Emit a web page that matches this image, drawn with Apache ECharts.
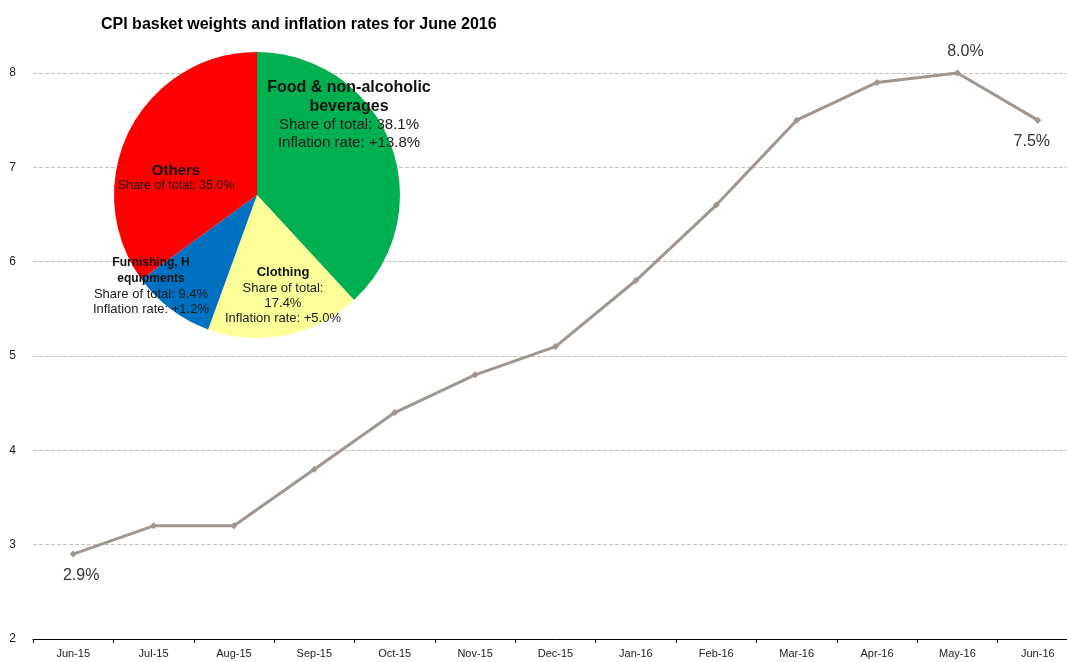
<!DOCTYPE html>
<html>
<head>
<meta charset="utf-8">
<script src="https://cdn.jsdelivr.net/npm/echarts@6/dist/echarts.min.js"></script>
<style>
  html, body { margin: 0; padding: 0; background: #fff; overflow: hidden; }
  /* a little wider than the window: the last month runs off the right edge, as in the original */
  #main { width: 1078px; height: 662px; }
</style>
</head>
<body>
<div id="main"></div>
<script>
// monthly CPI inflation, %
var months = ['Jun-15', 'Jul-15', 'Aug-15', 'Sep-15', 'Oct-15', 'Nov-15', 'Dec-15',
              'Jan-16', 'Feb-16', 'Mar-16', 'Apr-16', 'May-16', 'Jun-16'];
var inflation = [2.9, 3.2, 3.2, 3.8, 4.4, 4.8, 5.1, 5.8, 6.6, 7.5, 7.9, 8.0, 7.5];
// which points get a value label: [position, x shift]
var labelled = {0: ['bottom', 8], 11: ['top', 8], 12: ['bottom', -6]};

// basket groups
var groups = ['Food & non-alcoholic\nbeverages', 'Clothing', 'Furnishing, H\nequipments', 'Others'];
var shares = [38.1, 17.4, 9.4, 35.0];
var rates = ['+13.8%', '+5.0%', '+1.2%', null];
var groupColors = ['#00b050', '#ffff99', '#0070c0', '#ff0000'];

var chart = echarts.init(document.getElementById('main'));

var lineData = inflation.map(function (v, i) {
    var item = {value: v};
    if (labelled[i]) {
        item.label = {show: true, position: labelled[i][0], offset: [labelled[i][1], 0]};
    }
    return item;
});

// label centres inside the pie (pixel), per slice
var pieLabelPos = [[349, 115], [283, 295], [151, 286], [176, 178]];
var pieStyles = [
    {t: 16, s: 15, lh: 18},
    {t: 13, s: 13, lh: 15},
    {t: 12, s: 13, lh: 15},
    {t: 15, s: 12.5, lh: 15}
];

var pieData = groups.map(function (g, i) {
    var st = pieStyles[i];
    var share = i === 1 ? 'Share of total:\n' + shares[i].toFixed(1) + '%' : 'Share of total: ' + shares[i].toFixed(1) + '%';
    var lines = g.split('\n').map(function (l) { return '{t|' + l + '}'; });
    share.split('\n').forEach(function (l) { lines.push('{s|' + l + '}'); });
    if (rates[i]) lines.push('{s|Inflation rate: ' + rates[i] + '}');
    return {
        name: g,
        value: shares[i],
        itemStyle: {color: groupColors[i]},
        label: {
            formatter: lines.join('\n'),
            rich: {
                t: {fontSize: st.t, fontWeight: 'bold', color: '#111', lineHeight: st.lh + 1, align: 'center'},
                s: {fontSize: st.s, color: '#1a1a1a', lineHeight: st.lh, align: 'center'}
            }
        }
    };
});

var option = {
    backgroundColor: '#fff',
    textStyle: {fontFamily: 'Liberation Sans, Arial, sans-serif'},
    animation: false,
    title: {
        text: 'CPI basket weights and inflation rates for June 2016',
        left: 96,
        top: 12,
        textStyle: {fontSize: 16, fontWeight: 'bold', color: '#000'}
    },
    grid: {
        left: 33,
        right: 0,
        top: 73,
        bottom: 23
    },
    xAxis: {
        type: 'category',
        data: months,
        boundaryGap: true,
        axisLine: {lineStyle: {color: '#000', width: 1}},
        axisTick: {show: true, length: 4, lineStyle: {color: '#000'}},
        axisLabel: {color: '#222', fontSize: 11, margin: 9, interval: 0}
    },
    yAxis: {
        type: 'value',
        min: 2,
        max: 8,
        interval: 1,
        axisLine: {show: false},
        axisTick: {show: false},
        axisLabel: {color: '#222', fontSize: 12, margin: 17},
        splitLine: {lineStyle: {color: '#c0c0c0', type: 'dashed', width: 1}}
    },
    series: [
        {
            type: 'line',
            data: lineData,
            z: 2,
            symbol: 'diamond',
            symbolSize: 7,
            lineStyle: {color: '#a0968f', width: 3},
            itemStyle: {color: '#a0968f'},
            label: {
                show: false,
                distance: 10,
                fontSize: 16,
                color: '#333',
                formatter: function (p) { return p.value.toFixed(1) + '%'; }
            }
        },
        {
            type: 'pie',
            z: 5,
            center: [257, 195],
            radius: 143,
            startAngle: 90,
            clockwise: true,
            data: pieData,
            itemStyle: {borderWidth: 0},
            label: {show: true, position: 'inside'},
            labelLine: {show: false},
            labelLayout: function (p) {
                var pos = pieLabelPos[p.dataIndex];
                return {x: pos[0], y: pos[1], align: 'center', verticalAlign: 'middle'};
            },
            emphasis: {disabled: true}
        }
    ]
};

chart.setOption(option);
</script>
</body>
</html>
